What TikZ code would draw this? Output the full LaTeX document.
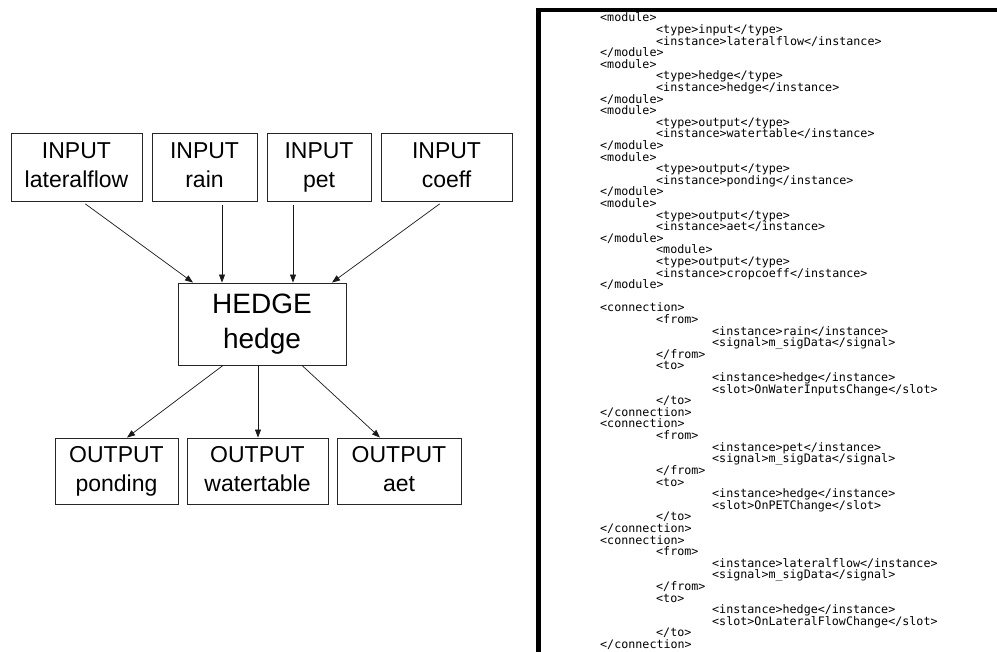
\documentclass[tikz,border=0pt]{standalone}
\usepackage{fontspec}
\setmainfont{Liberation Sans}
\newfontfamily\codefont{DejaVu Sans Mono}
\usetikzlibrary{arrows.meta}
\tikzset{
  modbox/.style={draw=black!85, line width=0.9pt, align=center, inner sep=0pt,
    font=\fontsize{23}{29}\selectfont},
  hedgebox/.style={modbox, font=\fontsize{28}{35}\selectfont},
  arr/.style={draw=black!90, line width=0.7pt, -{Triangle[length=8pt,width=6pt]}},
  codetxt/.style={anchor=base west, inner sep=0pt, text=black,
    font=\codefont\fontsize{11.7}{12}\selectfont},
  frameline/.style={fill=black}
}
\newcommand\cdl[3]{\node[codetxt] (c#1) at ({600+56*#2},{22+(#1-1)*11.6}) {#3};}
\newcommand\twol[2]{\strut #1\\\strut #2}
\begin{document}
\begin{tikzpicture}[x=1pt,y=-1pt]
\useasboundingbox (0,0) rectangle (997,652);
% ---- left diagram ----
\node[modbox, minimum width=131pt, minimum height=68pt] (lat)   at (76.5,167) {\twol{INPUT}{lateralflow}};
\node[modbox, minimum width=105pt, minimum height=68pt] (rain)  at (204.5,167) {\twol{INPUT}{rain}};
\node[modbox, minimum width=104pt, minimum height=68pt] (pet)   at (319,167) {\twol{INPUT}{pet}};
\node[modbox, minimum width=131pt, minimum height=68pt] (coeff) at (446.5,167) {\twol{INPUT}{coeff}};
\node[hedgebox, minimum width=168pt, minimum height=82pt] (hedge) at (262,324) {\twol{HEDGE}{hedge}};
\node[modbox, minimum width=123pt, minimum height=66pt] (pond)  at (116.5,471) {\twol{OUTPUT}{ponding}};
\node[modbox, minimum width=141pt, minimum height=66pt] (wt)    at (257.5,471) {\twol{OUTPUT}{watertable}};
\node[modbox, minimum width=124pt, minimum height=66pt] (aet)   at (399,471) {\twol{OUTPUT}{aet}};
\draw[arr, shorten <=4pt] ([xshift=5.5pt]lat.south)   -- ([xshift=-69pt]hedge.north);
\draw[arr, shorten <=4pt] ([xshift=17.5pt]rain.south) -- ([xshift=-40pt]hedge.north);
\draw[arr, shorten <=4pt] ([xshift=-26pt]pet.south)   -- ([xshift=31pt]hedge.north);
\draw[arr, shorten <=4pt] ([xshift=-3.5pt]coeff.south) -- ([xshift=70pt]hedge.north);
\draw[arr] ([xshift=-39pt]hedge.south) -- ([xshift=10.5pt]pond.north);
\draw[arr] ([xshift=-4pt]hedge.south)  -- ([xshift=0.5pt]wt.north);
\draw[arr] ([xshift=40pt]hedge.south)  -- ([xshift=-19pt]aet.north);
% ---- right panel frame ----
\fill[frameline] (536,8) rectangle (541,652);
\fill[frameline] (536,8) rectangle (996.5,12);
% ---- code ----
\cdl{1}{0}{<module>}
\cdl{2}{1}{<type>input</type>}
\cdl{3}{1}{<instance>lateralflow</instance>}
\cdl{4}{0}{</module>}
\cdl{5}{0}{<module>}
\cdl{6}{1}{<type>hedge</type>}
\cdl{7}{1}{<instance>hedge</instance>}
\cdl{8}{0}{</module>}
\cdl{9}{0}{<module>}
\cdl{10}{1}{<type>output</type>}
\cdl{11}{1}{<instance>watertable</instance>}
\cdl{12}{0}{</module>}
\cdl{13}{0}{<module>}
\cdl{14}{1}{<type>output</type>}
\cdl{15}{1}{<instance>ponding</instance>}
\cdl{16}{0}{</module>}
\cdl{17}{0}{<module>}
\cdl{18}{1}{<type>output</type>}
\cdl{19}{1}{<instance>aet</instance>}
\cdl{20}{0}{</module>}
\cdl{21}{1}{<module>}
\cdl{22}{1}{<type>output</type>}
\cdl{23}{1}{<instance>cropcoeff</instance>}
\cdl{24}{0}{</module>}
\cdl{26}{0}{<connection>}
\cdl{27}{1}{<from>}
\cdl{28}{2}{<instance>rain</instance>}
\cdl{29}{2}{<signal>m\_sigData</signal>}
\cdl{30}{1}{</from>}
\cdl{31}{1}{<to>}
\cdl{32}{2}{<instance>hedge</instance>}
\cdl{33}{2}{<slot>OnWaterInputsChange</slot>}
\cdl{34}{1}{</to>}
\cdl{35}{0}{</connection>}
\cdl{36}{0}{<connection>}
\cdl{37}{1}{<from>}
\cdl{38}{2}{<instance>pet</instance>}
\cdl{39}{2}{<signal>m\_sigData</signal>}
\cdl{40}{1}{</from>}
\cdl{41}{1}{<to>}
\cdl{42}{2}{<instance>hedge</instance>}
\cdl{43}{2}{<slot>OnPETChange</slot>}
\cdl{44}{1}{</to>}
\cdl{45}{0}{</connection>}
\cdl{46}{0}{<connection>}
\cdl{47}{1}{<from>}
\cdl{48}{2}{<instance>lateralflow</instance>}
\cdl{49}{2}{<signal>m\_sigData</signal>}
\cdl{50}{1}{</from>}
\cdl{51}{1}{<to>}
\cdl{52}{2}{<instance>hedge</instance>}
\cdl{53}{2}{<slot>OnLateralFlowChange</slot>}
\cdl{54}{1}{</to>}
\cdl{55}{0}{</connection>}
\end{tikzpicture}
\end{document}
